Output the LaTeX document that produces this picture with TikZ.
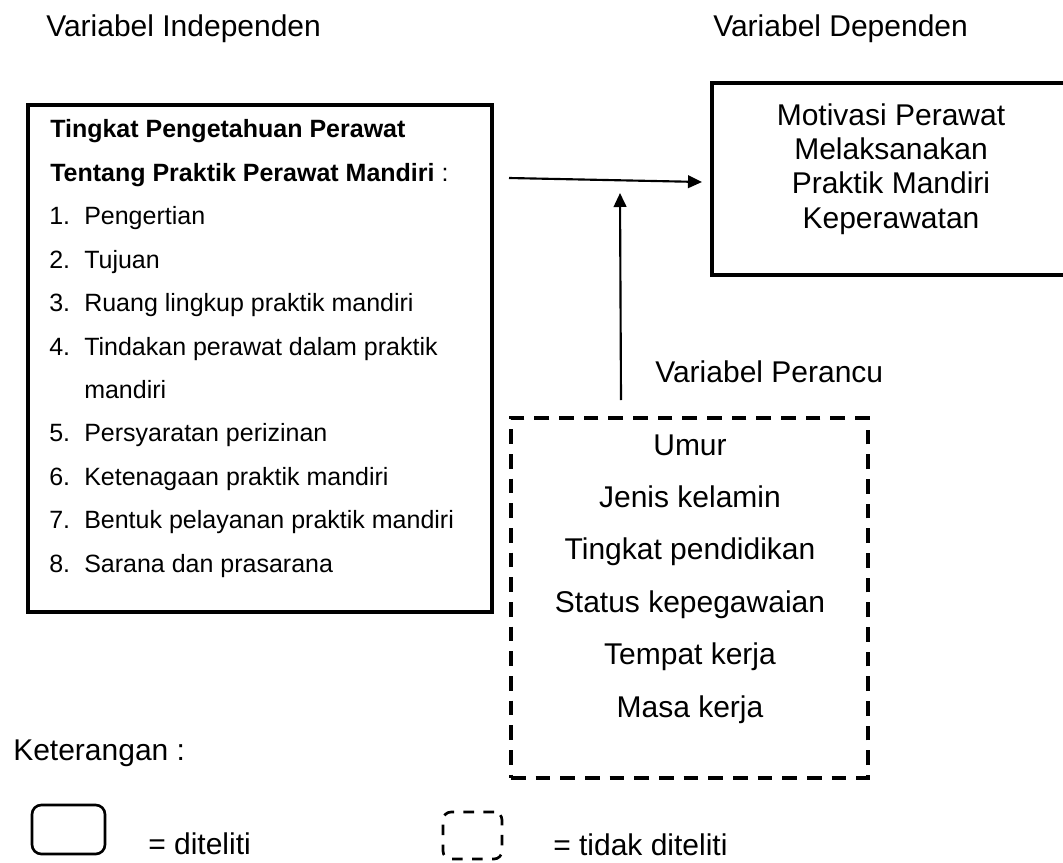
\documentclass[tikz,border=0pt]{standalone}
\usepackage{fontspec}
\setmainfont{Liberation Sans}
\usetikzlibrary{fit,arrows.meta}
\tikzset{
  big/.style={font=\fontsize{22.5}{27}\selectfont, inner sep=0pt},
  small/.style={font=\fontsize{18.75}{22}\selectfont, inner sep=0pt, anchor=base west},
  solidbox/.style={draw, line width=2.6pt, inner sep=0pt},
  dashbox/.style={draw, line width=2.4pt, dash pattern=on 11pt off 7.5pt, inner sep=0pt},
  legsolid/.style={draw, line width=2pt, rounded corners=7pt, inner sep=0pt},
  legdash/.style={draw, line width=2pt, rounded corners=6pt, dash pattern=on 8pt off 7pt, inner sep=0pt},
  arr/.style={line width=1.6pt, -{Triangle[length=10.5pt,width=9.5pt]}},
}
\begin{document}
\begin{tikzpicture}[x=0.75pt,y=-0.75pt]
\clip (0,0) rectangle (1063,863);
\fill[white] (0,0) rectangle (1063,863);

% headings
\node[big, anchor=base west] (hind) at (46,37) {Variabel Independen};
\node[big, anchor=base west] (hdep) at (713,37) {Variabel Dependen};
\node[big, anchor=base west] (hper) at (655,382) {Variabel Perancu};

% boxes
\node[solidbox, fit={(28,105)(492,612)}] (indep) {};
\node[solidbox, fit={(712,83)(1068,275)}] (motiv) {};
\node[dashbox, fit={(511,418)(868,778)}] (perancu) {};

% independent variable text
\node[small] (t1) at (50,138) {\textbf{Tingkat Pengetahuan Perawat}};
\node[small] (t2) at (50,181.4) {\textbf{Tentang Praktik Perawat Mandiri} :};
\node[small] (n1) at (49,224.8) {1.};
\node[small] (i1) at (84,224.8) {Pengertian};
\node[small] (n2) at (49,268.2) {2.};
\node[small] (i2) at (84,268.2) {Tujuan};
\node[small] (n3) at (49,311.6) {3.};
\node[small] (i3) at (84,311.6) {Ruang lingkup praktik mandiri};
\node[small] (n4) at (49,355) {4.};
\node[small] (i4) at (84,355) {Tindakan perawat dalam praktik};
\node[small] (i4b) at (84,398.4) {mandiri};
\node[small] (n5) at (49,441.8) {5.};
\node[small] (i5) at (84,441.8) {Persyaratan perizinan};
\node[small] (n6) at (49,485.2) {6.};
\node[small] (i6) at (84,485.2) {Ketenagaan praktik mandiri};
\node[small] (n7) at (49,528.6) {7.};
\node[small] (i7) at (84,528.6) {Bentuk pelayanan praktik mandiri};
\node[small] (n8) at (49,572) {8.};
\node[small] (i8) at (84,572) {Sarana dan prasarana};

% dependent variable text
\node[big, anchor=base] (m1) at (891,126) {Motivasi Perawat};
\node[big, anchor=base] (m2) at (891,160) {Melaksanakan};
\node[big, anchor=base] (m3) at (891,194) {Praktik Mandiri};
\node[big, anchor=base] (m4) at (891,228) {Keperawatan};

% confounding variable text
\node[big, anchor=base] (p1) at (690,455) {Umur};
\node[big, anchor=base] (p2) at (690,507.4) {Jenis kelamin};
\node[big, anchor=base] (p3) at (690,559.8) {Tingkat pendidikan};
\node[big, anchor=base] (p4) at (690,612.2) {Status kepegawaian};
\node[big, anchor=base] (p5) at (690,664.6) {Tempat kerja};
\node[big, anchor=base] (p6) at (690,717) {Masa kerja};

% arrows
\coordinate (hs) at (509,178);
\coordinate (he) at (702,182);
\draw[arr] (hs) -- (he);
\coordinate (vs) at (621,400);
\coordinate (ve) at (620,193);
\draw[arr] (vs) -- (ve);

% legend
\node[big, anchor=base west] (ket) at (13,760) {Keterangan :};
\node[legsolid, fit={(32,805)(105,854)}] (lsolid) {};
\node[big, anchor=base west] (ldit) at (148,854) {= diteliti};
\node[legdash, fit={(443,812)(502,859)}] (ldash) {};
\node[big, anchor=base west] (ltdk) at (553,855) {= tidak diteliti};
\end{tikzpicture}
\end{document}
